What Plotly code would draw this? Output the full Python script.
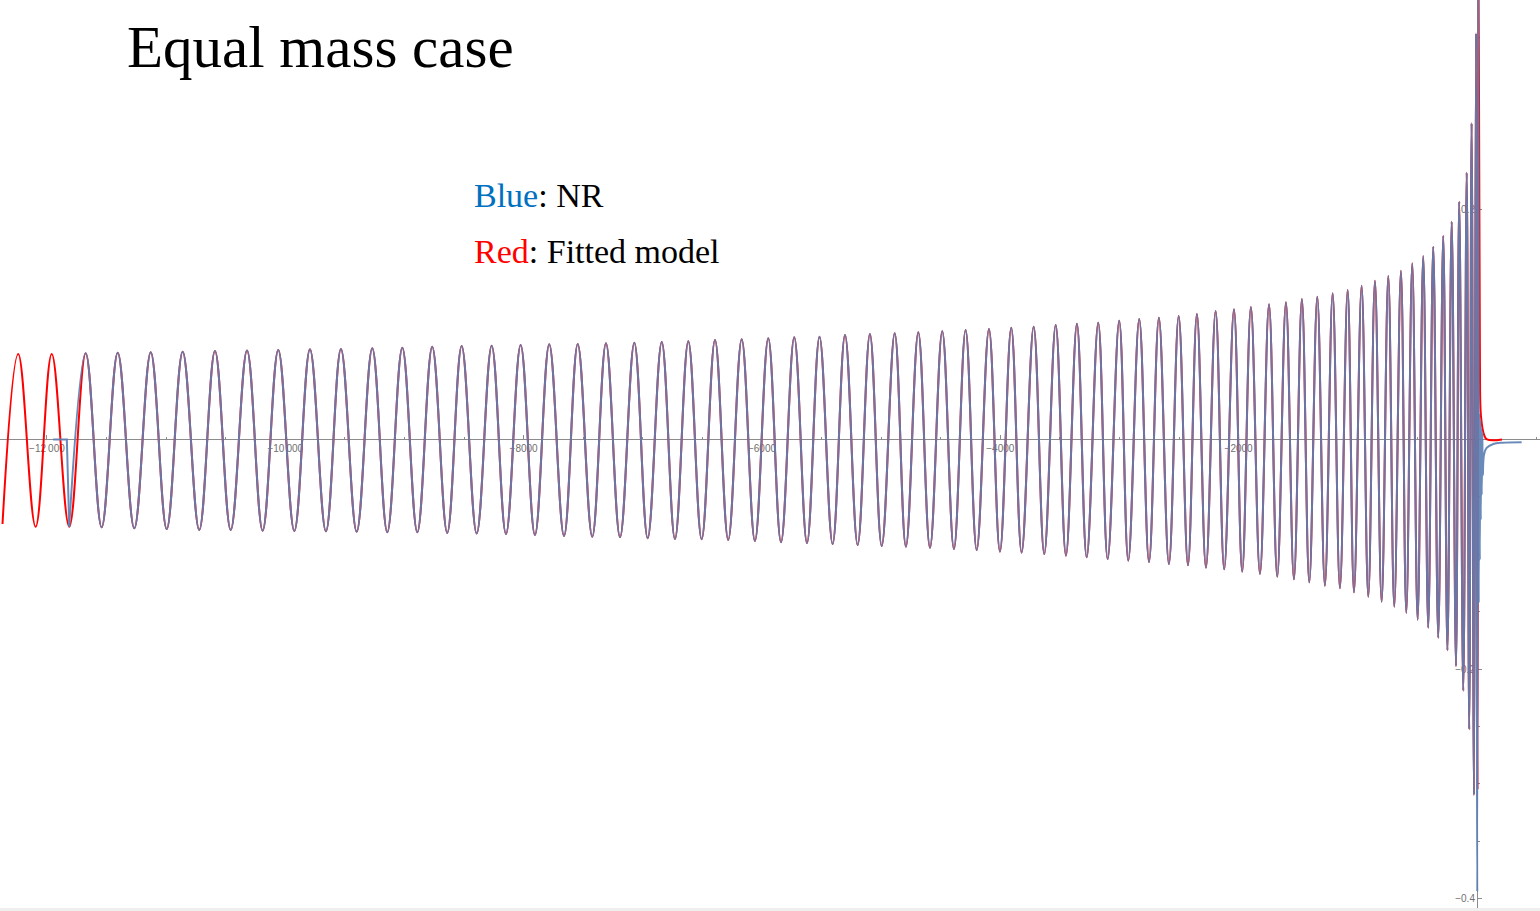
import plotly.graph_objects as go

# ---- data (time in M, strain amplitude) ----
# successive maxima of the inspiral (shared by NR and fitted model)
peak_t = [-12241, -11960, -11675, -11406, -11129, -10861, -10590, -10321, -10059, -9793,
          -9533, -9270, -9018, -8767, -8520, -8268, -8025, -7785, -7546, -7309,
          -7071, -6841, -6618, -6394, -6170, -5947, -5729, -5517, -5303, -5094,
          -4886, -4688, -4487, -4291, -4095, -3908, -3720, -3535, -3357, -3178,
          -3002, -2834, -2669, -2503, -2350, -2193, -2039, -1897, -1745, -1603,
          -1469, -1340, -1211, -1085, -968, -856, -744, -638, -543, -451,
          -367, -283, -212, -149, -86, -45, -8]
peak_h = [0.0745, 0.0745, 0.0751, 0.0756, 0.0760, 0.0765, 0.0771, 0.0774, 0.0780, 0.0786,
          0.0788, 0.0794, 0.0800, 0.0808, 0.0814, 0.0817, 0.0823, 0.0829, 0.0832, 0.0838,
          0.0843, 0.0849, 0.0855, 0.0867, 0.0873, 0.0882, 0.0890, 0.0895, 0.0910, 0.0919,
          0.0925, 0.0934, 0.0943, 0.0954, 0.0963, 0.0974, 0.0983, 0.0997, 0.1009, 0.1017,
          0.1035, 0.1050, 0.1061, 0.1076, 0.1093, 0.1119, 0.1134, 0.1154, 0.1178, 0.1195,
          0.1224, 0.1244, 0.1274, 0.1302, 0.1340, 0.1383, 0.1424, 0.1470, 0.1535, 0.1598,
          0.1679, 0.1773, 0.1897, 0.2071, 0.2324, 0.2754, 0.3538]
# successive minima (trough k follows peak k)
trough_t = [-12095, -11813, -11541, -11267, -10995, -10722, -10458, -10190, -9924, -9659,
            -9401, -9144, -8892, -8641, -8394, -8148, -7905, -7661, -7424, -7191,
            -6959, -6730, -6506, -6283, -6059, -5840, -5622, -5407, -5197, -4995,
            -4792, -4590, -4389, -4198, -4003, -3821, -3631, -3449, -3275, -3099,
            -2926, -2752, -2585, -2425, -2274, -2121, -1970, -1821, -1676, -1536,
            -1407, -1276, -1150, -1032, -912, -800, -694, -593, -498, -409,
            -325, -248, -176, -115, -65, -25, 2.5]
trough_h = [-0.0760, -0.0760, -0.0765, -0.0774, -0.0780, -0.0788, -0.0788, -0.0794, -0.0797, -0.0800,
            -0.0803, -0.0808, -0.0808, -0.0814, -0.0819, -0.0823, -0.0832, -0.0841, -0.0847, -0.0852,
            -0.0861, -0.0867, -0.0869, -0.0875, -0.0884, -0.0895, -0.0902, -0.0910, -0.0919, -0.0928,
            -0.0934, -0.0943, -0.0954, -0.0963, -0.0977, -0.0986, -0.0997, -0.1012, -0.1026, -0.1041,
            -0.1056, -0.1067, -0.1085, -0.1096, -0.1117, -0.1131, -0.1152, -0.1172, -0.1195, -0.1218,
            -0.1244, -0.1274, -0.1296, -0.1331, -0.1369, -0.1413, -0.1456, -0.1511, -0.1570, -0.1640,
            -0.1727, -0.1836, -0.1973, -0.2188, -0.2524, -0.3097, -0.3939]

# fitted model (red): first sample, then merger / ringdown
red_start_t = [-12373]
red_start_h = [-0.0736]
red_tail_t = [5, 13, 20, 25, 34, 60, 84, 210]
red_tail_h = [-0.305, 0.40, 0.21, 0.065, 0.020, 0.004, 0.0, 0.0]

# NR (blue): flat lead-in at zero, then merger / ringdown
blue_lead_t = [-11948, -11833]
blue_lead_h = [0.0, 0.0]
blue_tail_t = [11, 15, 19, 24, 28, 32, 36, 40, 45, 49, 59, 81, 137, 218, 375]
blue_tail_h = [0.40, -0.1424, 0.0231, -0.1050, 0.0170, -0.0701, 0.0100, -0.0483, 0.0065,
               -0.0309, -0.0135, -0.0074, -0.0039, -0.0028, -0.0024]

x_tickvals = [-12000, -10000, -8000, -6000, -4000, -2000]
x_ticktext = ["\u221212\u2009000", "\u221210\u2009000", "\u22128000", "\u22126000", "\u22124000", "\u22122000"]
y_tickvals = [-0.4, -0.2, 0.2]
y_ticktext = ["\u22120.4", "\u22120.2", "0.2"]

x_range = [-12394, 529]
y_range = [-0.4107, 0.3828]

# ---- build series ----
red_t, red_h = list(red_start_t), list(red_start_h)
for i in range(len(peak_t)):
    red_t.append(peak_t[i]); red_h.append(peak_h[i])
    if i < len(peak_t) - 1:
        red_t.append(trough_t[i]); red_h.append(trough_h[i])
red_t += red_tail_t
red_h += red_tail_h

blue_t, blue_h = [], []
for i in range(1, len(trough_t)):
    blue_t.append(trough_t[i]); blue_h.append(trough_h[i])
    if i + 1 < len(peak_t):
        blue_t.append(peak_t[i + 1]); blue_h.append(peak_h[i + 1])
blue_t += blue_tail_t
blue_h += blue_tail_h

blue_col = "#5E81B5"
fig = go.Figure()
fig.add_trace(go.Scatter(x=red_t, y=red_h, mode="lines",
                         line=dict(color="#ff0000", width=2.0, shape="spline", smoothing=1.1, simplify=False),
                         showlegend=False, hoverinfo="skip"))
fig.add_trace(go.Scatter(x=blue_lead_t + [trough_t[1]], y=blue_lead_h + [trough_h[1]], mode="lines",
                         opacity=0.92, line=dict(color=blue_col, width=2.0),
                         showlegend=False, hoverinfo="skip"))
fig.add_trace(go.Scatter(x=blue_t, y=blue_h, mode="lines", opacity=0.92,
                         line=dict(color=blue_col, width=2.0, shape="spline", smoothing=1.1, simplify=False),
                         showlegend=False, hoverinfo="skip"))

pos_x = (0 - y_range[0]) / (y_range[1] - y_range[0])
pos_y = (0 - x_range[0]) / (x_range[1] - x_range[0])

axis_col = "#8c8c8c"
tick_font = dict(family="Liberation Sans, Arial, sans-serif", size=10, color="#707070")

fig.update_layout(
    width=1540, height=911,
    margin=dict(l=0, r=0, t=0, b=0),
    paper_bgcolor="white", plot_bgcolor="white",
    xaxis=dict(range=x_range, anchor="free", position=pos_x, showline=True,
               linecolor=axis_col, linewidth=1, showgrid=False, zeroline=False,
               ticks="inside", ticklen=4, tickcolor=axis_col, tickwidth=1,
               tickmode="array", tickvals=x_tickvals, ticktext=x_ticktext,
               tickfont=tick_font, layer="below traces",
               minor=dict(ticks="inside", ticklen=2.5, tickcolor=axis_col, tick0=0, dtick=500, showgrid=False)),
    yaxis=dict(range=y_range, anchor="free", position=pos_y, showline=True,
               linecolor=axis_col, linewidth=1, showgrid=False, zeroline=False,
               ticks="inside", ticklen=4, tickcolor=axis_col, tickwidth=1,
               tickmode="array", tickvals=y_tickvals, ticktext=y_ticktext,
               tickfont=tick_font, layer="below traces",
               minor=dict(ticks="inside", ticklen=2.5, tickcolor=axis_col, tick0=0, dtick=0.05, showgrid=False)),
)

serif = "Liberation Serif, Times New Roman, serif"
fig.add_annotation(xref="paper", yref="paper", x=125 / 1540, y=1 - 47 / 911,
                   xanchor="left", yanchor="middle", showarrow=False,
                   text="Equal mass case", font=dict(family=serif, size=59, color="black"))
fig.add_annotation(xref="paper", yref="paper", x=472 / 1540, y=1 - 196 / 911,
                   xanchor="left", yanchor="middle", showarrow=False,
                   text="<span style='color:#0070C0'>Blue</span>: NR",
                   font=dict(family=serif, size=34, color="black"))
fig.add_annotation(xref="paper", yref="paper", x=472 / 1540, y=1 - 251 / 911,
                   xanchor="left", yanchor="middle", showarrow=False,
                   text="<span style='color:#FF0000'>Red</span>: Fitted model",
                   font=dict(family=serif, size=34, color="black"))

fig.add_shape(type="rect", xref="paper", yref="paper", x0=0, x1=1, y0=0, y1=3 / 911,
              fillcolor="#efefef", line=dict(width=0), layer="above")

fig.write_html("out.html")
